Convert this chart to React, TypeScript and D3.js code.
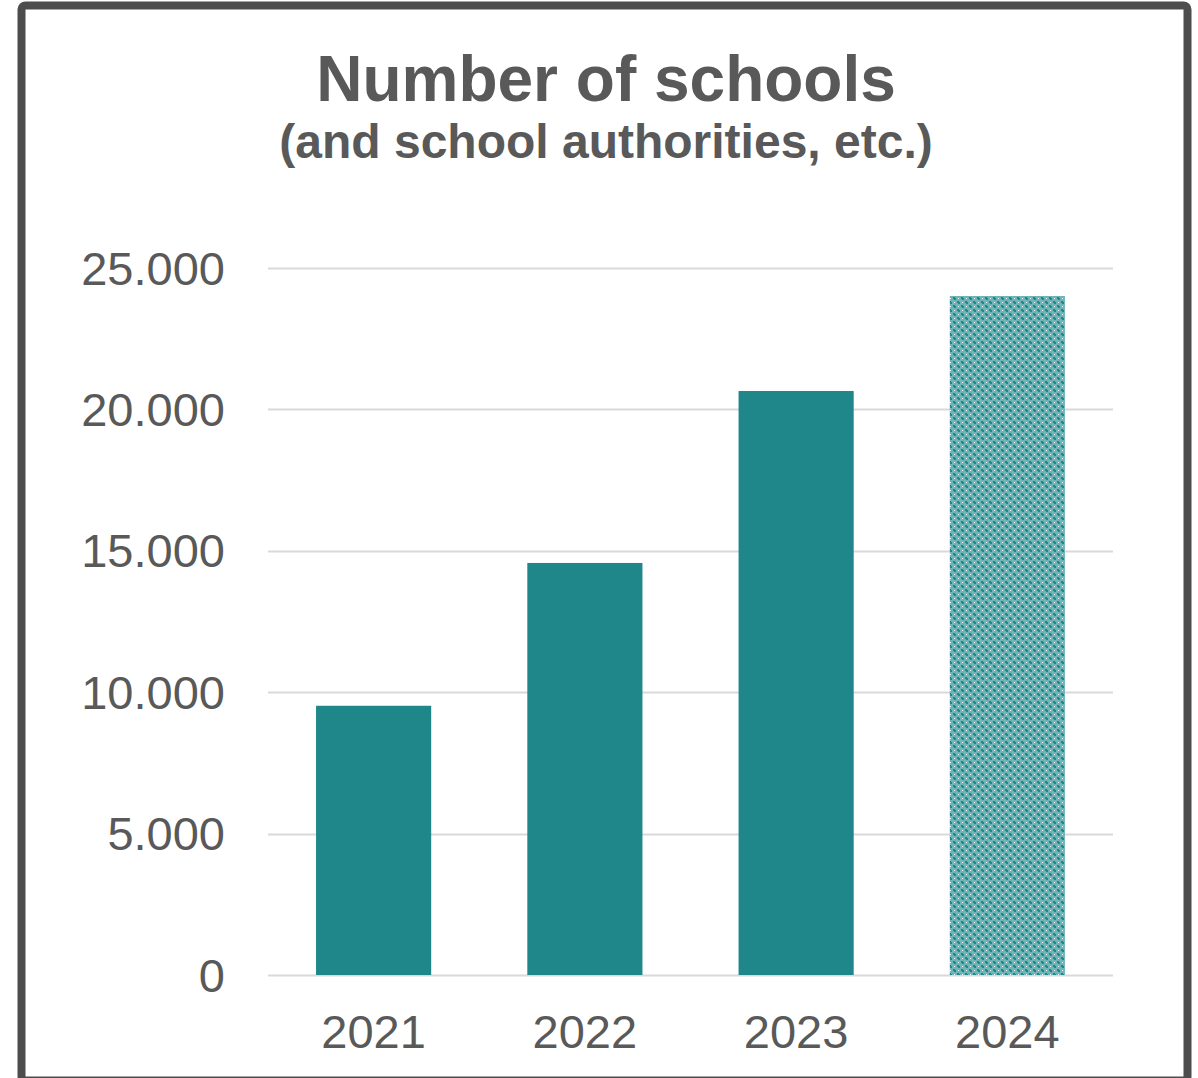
import React from "react";
import * as d3 from "d3";

const years = ["2021", "2022", "2023", "2024"];
const schools = [9520, 14570, 20650, 24010];
const patterned = [false, false, false, true];
const yTicks = [0, 5000, 10000, 15000, 20000, 25000];

const W = 1198;
const H = 1078;
const TEAL = "#1f868a";
const TEXT = "#595959";

export default function App() {
  const x = d3.scaleBand<string>().domain(years).range([268, 1113]).paddingInner(0.455).paddingOuter(0.2275);
  const y = d3.scaleLinear().domain([0, 25000]).range([975, 268]);
  const fmt = (v: number) => d3.format(",")(v).replace(/,/g, ".");
  return (
    <svg width={W} height={H} style={{ position: "absolute", left: 0, top: 0, display: "block" }}>
      <defs>
        <pattern id="dots" width="8" height="8" patternUnits="userSpaceOnUse" x="0" y="0">
          <rect width="8" height="8" fill="#6db5b8" />
          <rect x="1" y="2" width="3" height="1" fill={TEAL} />
          <rect x="2" y="1" width="1" height="3" fill={TEAL} />
          <rect x="5" y="6" width="3" height="1" fill={TEAL} />
          <rect x="6" y="5" width="1" height="3" fill={TEAL} />
          <rect x="1" y="1" width="1" height="1" fill={TEAL} />
          <rect x="3" y="3" width="1" height="1" fill={TEAL} />
          <rect x="5" y="5" width="1" height="1" fill={TEAL} />
          <rect x="7" y="7" width="1" height="1" fill={TEAL} />
          <rect x="6" y="2" width="1" height="1" fill="#ffffff" />
          <rect x="2" y="6" width="1" height="1" fill="#ffffff" />
        </pattern>
      </defs>
      <rect x={0} y={0} width={W} height={H} fill="#ffffff" />
      <rect x={21.5} y={5.5} width={1166} height={1075} fill="#ffffff" stroke="#4d4d4d" strokeWidth={8} rx={4} />
      <text x={606} y={101} textAnchor="middle" fontFamily="Liberation Sans, Arial, sans-serif" fontWeight="bold" fontSize={64} fill={TEXT}>
        Number of schools
      </text>
      <text x={606} y={158} textAnchor="middle" fontFamily="Liberation Sans, Arial, sans-serif" fontWeight="bold" fontSize={48} fill={TEXT}>
        (and school authorities, etc.)
      </text>
      {yTicks.map((t) => (
        <g key={t}>
          <line x1={268} x2={1113} y1={Math.round(y(t)) + 0.5} y2={Math.round(y(t)) + 0.5} stroke="#d9d9d9" strokeWidth={2} />
          <text x={225} y={y(t) + 16.5} textAnchor="end" fontFamily="Liberation Sans, Arial, sans-serif" fontSize={47} fill={TEXT}>
            {fmt(t)}
          </text>
        </g>
      ))}
      {years.map((yr, i) => (
        <rect
          key={yr}
          x={x(yr)}
          y={y(schools[i])}
          width={x.bandwidth()}
          height={y(0) - y(schools[i])}
          fill={patterned[i] ? "url(#dots)" : TEAL}
        />
      ))}
      {years.map((yr) => (
        <text key={yr} x={(x(yr) as number) + x.bandwidth() / 2} y={1048} textAnchor="middle" fontFamily="Liberation Sans, Arial, sans-serif" fontSize={47} fill={TEXT}>
          {yr}
        </text>
      ))}
    </svg>
  );
}
